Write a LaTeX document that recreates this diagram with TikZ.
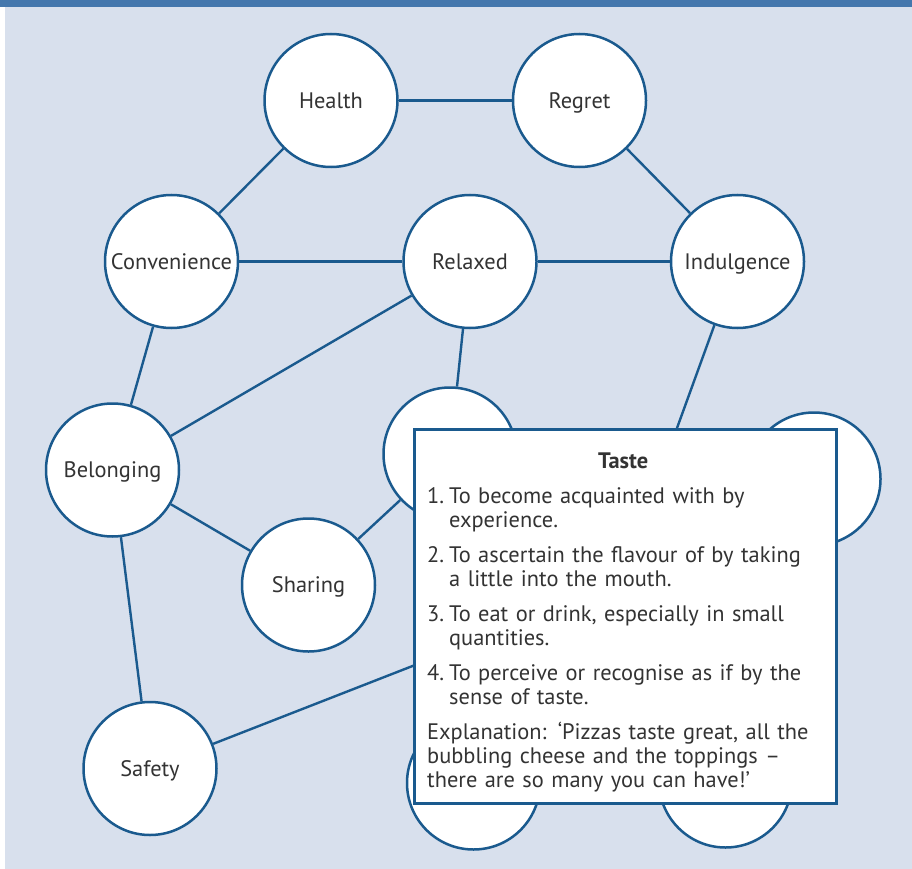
\documentclass[tikz,border=0pt]{standalone}
\usepackage{fontspec}
\setmainfont{PT Sans}
\definecolor{bgc}{HTML}{D8E0ED}
\definecolor{barc}{HTML}{4477AD}
\definecolor{strokec}{HTML}{1A5A8E}
\definecolor{txtc}{HTML}{333333}
\newcommand{\defitem}[2]{\hangindent=22pt\hangafter=1\noindent\makebox[22pt][l]{#1}#2\par\vspace{11pt}}
\tikzset{
  concept/.style={circle, draw=strokec, line width=2.5pt, fill=white, minimum size=133pt, inner sep=0pt,
    font=\fontsize{22.4}{24}\selectfont, text=txtc, text height=15.7pt, text depth=0pt},
  edge/.style={draw=strokec, line width=2.4pt},
  defbox/.style={draw=strokec, line width=2.5pt, fill=white, inner sep=0pt},
  deftext/.style={inner sep=0pt, text width=405pt, align=left, font=\fontsize{22.4}{24}\selectfont, text=txtc}
}
\begin{document}
\begin{tikzpicture}[x=1pt,y=-1pt]
\fill[white] (0,0) rectangle (912,869);
\fill[bgc] (5,0) rectangle (912,869);
\fill[barc] (0,0) rectangle (912,7);
\useasboundingbox (0,0) rectangle (912,869);

\node[concept] (health) at (331,100.5) {Health};
\node[concept] (regret) at (579.5,100.5) {Regret};
\node[concept] (convenience) at (171.5,261.5) {Convenience};
\node[concept] (relaxed) at (470,261.5) {Relaxed};
\node[concept] (indulgence) at (737.5,261.5) {Indulgence};
\node[concept] (belonging) at (112.5,470) {Belonging};
\node[concept] (hidden1) at (450,454) {};
\node[concept] (hidden2) at (814,479) {};
\node[concept] (sharing) at (308.5,585) {Sharing};
\node[concept] (safety) at (150,768.5) {Safety};
\node[concept] (hidden3) at (473.5,783) {};
\node[concept] (hidden4) at (725.5,781) {};
\coordinate (tastehub) at (620,585);

\draw[edge] (health) -- (regret);
\draw[edge] (health) -- (convenience);
\draw[edge] (regret) -- (indulgence);
\draw[edge] (convenience) -- (relaxed);
\draw[edge] (relaxed) -- (indulgence);
\draw[edge] (convenience) -- (belonging);
\draw[edge] (relaxed) -- (belonging);
\draw[edge] (relaxed) -- (hidden1);
\draw[edge] (belonging) -- (sharing);
\draw[edge] (sharing) -- (hidden1);
\draw[edge] (belonging) -- (safety);
\draw[edge] (indulgence) -- (tastehub);
\draw[edge] (safety) -- (tastehub);

\node[defbox, anchor=north west, minimum width=422pt, minimum height=374pt] (box) at (413,428) {};
\node[deftext, anchor=north west] (boxtext) at (427,453) {%
\makebox[392pt][c]{\bfseries Taste}\par\vspace{11pt}
\defitem{1.}{To become acquainted with by\newline experience.}
\defitem{2.}{To ascertain the flavour of by taking\newline a little into the mouth.}
\defitem{3.}{To eat or drink, especially in small\newline quantities.}
\defitem{4.}{To perceive or recognise as if by the\newline sense of taste.}
\noindent Explanation: ‘Pizzas taste great, all the\newline bubbling cheese and the toppings –\newline there are so many you can have!’};
\end{tikzpicture}
\end{document}
